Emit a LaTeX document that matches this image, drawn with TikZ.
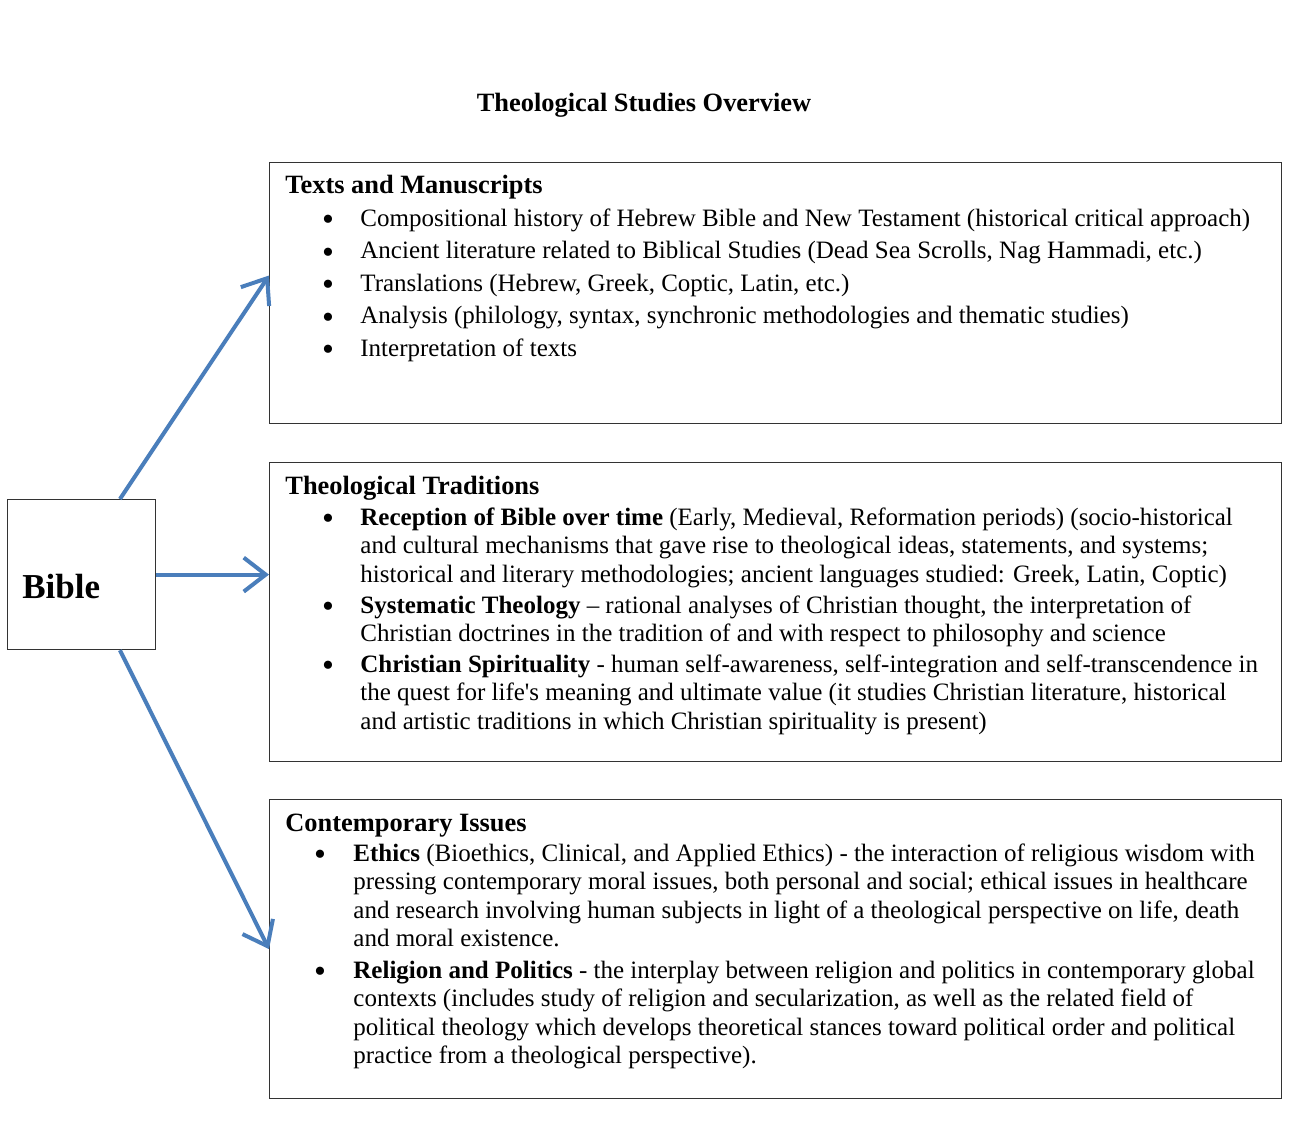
\documentclass[tikz,border=0pt]{standalone}
\usepackage{fontspec}
\setmainfont{Liberation Serif}
\usepackage{xcolor}
\usetikzlibrary{arrows.meta,calc}
\definecolor{linkblue}{HTML}{4A7EBB}

\tikzset{
  panel/.style={draw=black!80, line width=0.6pt, inner sep=0pt, anchor=north west},
  heading/.style={anchor=base west, inner sep=0pt, font=\fontsize{13.2}{15}\selectfont\bfseries},
  dot/.style={anchor=center, inner sep=0pt, font=\fontsize{17}{17}\selectfont},
  entry/.style={anchor=base west, inner sep=0pt, font=\fontsize{12.5}{14.3}\selectfont},
  link/.style={draw=linkblue, line width=2pt, -{Straight Barb[length=11pt,width=17pt]}}
}
\newcommand{\entrytext}[1]{\parbox[t]{500pt}{\raggedright #1}}

\begin{document}
\begin{tikzpicture}[x=0.5pt, y=-0.5pt]
  \useasboundingbox[fill=white] (0,0) rectangle (1305,1135);
  % Title
  \node[anchor=base, inner sep=0pt, font=\fontsize{13.2}{15}\selectfont\bfseries] (title) at (644,111) {Theological Studies Overview};
  % Bible
  \node[panel, minimum width=74pt, minimum height=75pt] (bible) at (7,499) {};
  \node[anchor=base west, inner sep=0pt, font=\fontsize{17.5}{20}\selectfont\bfseries] (bibleword) at (22,598) {Bible};
  % Panels
  \node[panel, minimum width=506pt, minimum height=130.5pt] (texts) at (269,162) {};
  \node[panel, minimum width=506pt, minimum height=149.5pt] (traditions) at (269,462) {};
  \node[panel, minimum width=506pt, minimum height=149.5pt] (issues) at (269,799) {};
  % Texts and Manuscripts
  \node[heading] (textshead) at (285,193) {Texts and Manuscripts};
  \foreach \y/\txt [count=\i] in {226/{Compositional history of Hebrew Bible and New Testament (historical critical approach)},
      258.5/{Ancient literature related to Biblical Studies (Dead Sea Scrolls, Nag Hammadi, etc.)},
      291/{Translations (Hebrew, Greek, Coptic, Latin, etc.)},
      323.5/{Analysis (philology, syntax, synchronic methodologies and thematic studies)},
      356/{Interpretation of texts}} {
    \node[dot] (textsdot\i) at (328,\y-3) {\textbullet};
    \node[entry] (textsitem\i) at (360,\y) {\txt};
  }
  % Theological Traditions
  \node[heading] (tradhead) at (285,494) {Theological Traditions};
  \node[dot] (traddot1) at (328,522) {\textbullet};
  \node[entry] (traditem1) at (360,525) {\entrytext{\textbf{Reception of Bible over time} (Early, Medieval, Reformation periods) (socio-historical\\
    and cultural mechanisms that gave rise to theological ideas, statements, and systems;\\
    historical and literary methodologies; ancient languages studied: Greek, Latin, Coptic)}};
  \node[dot] (traddot2) at (328,610) {\textbullet};
  \node[entry] (traditem2) at (360,613) {\entrytext{\textbf{Systematic Theology} – rational analyses of Christian thought, the interpretation of\\
    Christian doctrines in the tradition of and with respect to philosophy and science}};
  \node[dot] (traddot3) at (328,669) {\textbullet};
  \node[entry] (traditem3) at (360,672) {\entrytext{\textbf{Christian Spirituality} - human self-awareness, self-integration and self-transcendence in\\
    the quest for life\textquotesingle s meaning and ultimate value (it studies Christian literature, historical\\
    and artistic traditions in which Christian spirituality is present)}};
  % Contemporary Issues
  \node[heading] (issuehead) at (285,831) {Contemporary Issues};
  \node[dot] (issuedot1) at (320,858) {\textbullet};
  \node[entry] (issueitem1) at (353,861) {\entrytext{\textbf{Ethics} (Bioethics, Clinical, and Applied Ethics) - the interaction of religious wisdom with\\
    pressing contemporary moral issues, both personal and social; ethical issues in healthcare\\
    and research involving human subjects in light of a theological perspective on life, death\\
    and moral existence.}};
  \node[dot] (issuedot2) at (320,975) {\textbullet};
  \node[entry] (issueitem2) at (353,978) {\entrytext{\textbf{Religion and Politics} - the interplay between religion and politics in contemporary global\\
    contexts (includes study of religion and secularization, as well as the related field of\\
    political theology which develops theoretical stances toward political order and political\\
    practice from a theological perspective).}};
  % Arrows
  \draw[link] ($(bible.north west)!0.757!(bible.north east)$) -- ($(texts.north west)!0.433!(texts.south west)$);
  \draw[link] (bible.east) -- (bible.east -| traditions.west);
  \draw[link] ($(bible.south west)!0.757!(bible.south east)$) -- (issues.west);
\end{tikzpicture}
\end{document}
